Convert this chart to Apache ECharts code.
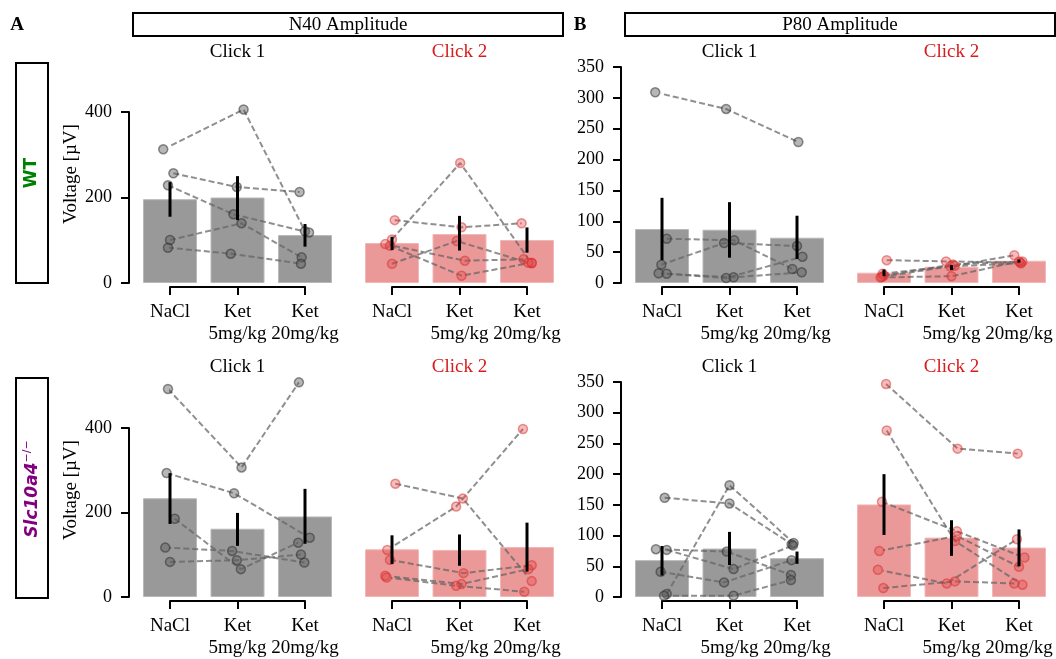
<!DOCTYPE html>
<html>
<head>
<meta charset="utf-8">
<script src="https://cdn.jsdelivr.net/npm/echarts@6/dist/echarts.min.js"></script>
<style>
  html, body { margin: 0; padding: 0; background: #fff; }
  #chart { width: 1056px; height: 659px; }
</style>
</head>
<body>
<div id="chart"></div>
<script>
// categories on every x axis
const cats = ['NaCl', 'Ket\n5mg/kg', 'Ket\n20mg/kg']

// one row per animal: [NaCl, Ket 5, Ket 20]; jitter = horizontal strip offset of each dot
// N40 amplitude, WT
const n40WtC1 = [[312.7, 406, 121], [256.6, 224.6, 212.9], [228.5, 160.7, 118], [100.6, 139.6, 60], [82.6, 68.6, 45.2]]
const n40WtC1Jit = [[-0.10, 0.09, 0.00], [0.05, -0.01, -0.08], [-0.03, -0.06, 0.06], [0.00, 0.06, -0.05], [-0.03, -0.10, -0.06]]
const n40WtC1Bar = [196, 200, 112]
const n40WtC1Err = [[155, 236], [147, 250], [85, 138]]

const n40WtC2 = [[102, 280.7, 46], [147, 130.3, 139.6], [91, 52.2, 55.4], [87, 17.1, 47.5], [45, 98.2, 47.5]]
const n40WtC2Jit = [[0.00, 0.01, 0.07], [0.04, 0.03, -0.08], [-0.10, 0.08, -0.05], [-0.03, 0.03, 0.07], [0.00, -0.04, 0.02]]
const n40WtC2Bar = [93.6, 114.6, 100.6]
const n40WtC2Err = [[77, 108], [76, 157], [71, 130]]

// P80 amplitude, WT
const p80WtC1 = [[309, 282, 228.5], [71.8, 69.1, 22.7], [29.7, 64.8, 60], [15.7, 8.1, 42.6], [15.1, 9.2, 17.3]]
const p80WtC1Jit = [[-0.10, -0.05, 0.02], [0.07, 0.07, -0.07], [-0.01, -0.08, 0.00], [-0.05, -0.05, 0.08], [0.07, 0.06, 0.07]]
const p80WtC1Bar = [87.5, 86.4, 73.4]
const p80WtC1Err = [[37, 138], [41, 131], [39, 109]]

const p80WtC2 = [[37, 35, 33], [15, 28, 45], [12, 30, 35], [10, 27, 32], [9, 11, 35]]
const p80WtC2Jit = [[0.04, -0.08, 0.02], [-0.02, 0.05, -0.07], [0.00, 0.02, 0.05], [-0.03, -0.02, 0.03], [-0.05, 0.00, 0.00]]
const p80WtC2Bar = [16.7, 26.4, 36.1]
const p80WtC2Err = [[11, 22], [21, 29], [33, 38]]

// N40 amplitude, Slc10a4-/-
const n40KoC1 = [[492.5, 306.7, 508], [293.4, 245.5, 140.4], [185.2, 65.9, 128.6], [116.9, 109, 81.5], [83.1, 87, 100.4]]
const n40KoC1Jit = [[-0.03, 0.06, -0.09], [-0.05, -0.05, 0.07], [0.07, 0.05, -0.10], [-0.07, -0.08, -0.01], [0.00, -0.01, -0.06]]
const n40KoC1Bar = [233.7, 161.6, 190.6]
const n40KoC1Err = [[173, 293], [121, 199], [126, 256]]

const n40KoC2 = [[268.2, 233, 37.6], [111.4, 214, 397.6], [87.8, 56.5, 75.3], [50.2, 30.6, 65.9], [46.3, 26.6, 12.5]]
const n40KoC2Jit = [[0.05, 0.05, 0.07], [-0.07, -0.05, -0.06], [-0.03, 0.06, 0.07], [-0.10, 0.03, 0.02], [-0.08, -0.05, -0.04]]
const n40KoC2Bar = [112.9, 111.4, 118.4]
const n40KoC2Err = [[78, 146], [74, 148], [60, 176]]

// P80 amplitude, Slc10a4-/-
const p80KoC1 = [[161.5, 152.3, 86], [4.9, 182, 88], [77.8, 74, 36], [76.7, 45.4, 84], [41, 23.8, 60], [2, 2.2, 27.5]]
const p80KoC1Jit = [[0.04, 0.00, -0.08], [0.07, 0.00, -0.05], [-0.09, -0.04, -0.09], [0.07, 0.06, -0.06], [-0.02, -0.08, -0.08], [0.03, 0.06, -0.09]]
const p80KoC1Bar = [60, 78.9, 63.2]
const p80KoC1Err = [[35, 83], [52, 106], [54, 74]]

const p80KoC2 = [[346.8, 241.5, 233.4], [271.2, 91.3, 20], [155, 107, 64.2], [75, 99.4, 49.2], [44.3, 22.1, 94], [14.6, 25.4, 22.1]]
const p80KoC2Jit = [[0.03, 0.09, -0.02], [0.04, 0.05, 0.05], [-0.03, 0.08, 0.08], [-0.07, 0.08, 0.00], [-0.09, -0.07, -0.03], [-0.01, 0.05, -0.07]]
const p80KoC2Bar = [150.7, 96.7, 80.5]
const p80KoC2Err = [[101, 200], [67, 125], [50, 110]]

const panels = [
  { vals: n40WtC1, jit: n40WtC1Jit, bar: n40WtC1Bar, err: n40WtC1Err, row: 0, col: 0 },
  { vals: n40WtC2, jit: n40WtC2Jit, bar: n40WtC2Bar, err: n40WtC2Err, row: 0, col: 1 },
  { vals: p80WtC1, jit: p80WtC1Jit, bar: p80WtC1Bar, err: p80WtC1Err, row: 0, col: 2 },
  { vals: p80WtC2, jit: p80WtC2Jit, bar: p80WtC2Bar, err: p80WtC2Err, row: 0, col: 3 },
  { vals: n40KoC1, jit: n40KoC1Jit, bar: n40KoC1Bar, err: n40KoC1Err, row: 1, col: 0 },
  { vals: n40KoC2, jit: n40KoC2Jit, bar: n40KoC2Bar, err: n40KoC2Err, row: 1, col: 1 },
  { vals: p80KoC1, jit: p80KoC1Jit, bar: p80KoC1Bar, err: p80KoC1Err, row: 1, col: 2 },
  { vals: p80KoC2, jit: p80KoC2Jit, bar: p80KoC2Bar, err: p80KoC2Err, row: 1, col: 3 }
]

// layout (pixels)
const colLeft = [170, 392, 662, 884]
const plotW = 135
const rowBottom = [283, 598]
const topTickN40 = [112, 428]
const topTickP80 = [67, 382]
const serif = '"Liberation Serif", "DejaVu Serif", serif'
const red = '#d81b1b'

let grid = []
let xAxis = []
let yAxis = []
let series = []

panels.forEach((p, i) => {
  const isN40 = p.col < 2
  const isClick2 = p.col % 2 === 1
  const top = (isN40 ? topTickN40 : topTickP80)[p.row]
  grid.push({ left: colLeft[p.col], top: top, width: plotW, height: rowBottom[p.row] - top })
  xAxis.push({
    gridIndex: i,
    type: 'value',
    min: 0,
    max: 2,
    interval: 1,
    offset: 4,
    splitLine: { show: false },
    axisLine: { show: true, onZero: false, lineStyle: { color: '#000', width: 2 } },
    axisTick: { show: true, length: 8, lineStyle: { color: '#000', width: 2 } },
    axisLabel: {
      showMinLabel: true,
      showMaxLabel: true,
      margin: 14,
      color: '#000',
      fontFamily: serif,
      fontSize: 19,
      lineHeight: 22,
      formatter: v => cats[v]
    }
  })
  yAxis.push({
    gridIndex: i,
    type: 'value',
    show: !isClick2,
    min: 0,
    max: isN40 ? 400 : 350,
    interval: isN40 ? 200 : 50,
    offset: 41,
    splitLine: { show: false },
    axisLine: { show: true, onZero: false, lineStyle: { color: '#000', width: 2 } },
    axisTick: { show: true, length: 8, lineStyle: { color: '#000', width: 2 } },
    axisLabel: { margin: 17, color: '#000', fontFamily: serif, fontSize: 18 }
  })

  series.push({
    type: 'bar',
    xAxisIndex: i,
    yAxisIndex: i,
    barWidth: 54,
    clip: false,
    z: 1,
    itemStyle: isClick2
      ? { color: '#ea9898', borderColor: '#f2b8b8', borderWidth: 1 }
      : { color: '#999999', borderColor: '#b8b8b8', borderWidth: 1 },
    data: p.bar.map((v, k) => [k, v])
  })

  p.vals.forEach((row, s) => {
    series.push({
      type: 'line',
      xAxisIndex: i,
      yAxisIndex: i,
      symbol: 'none',
      clip: false,
      z: 3,
      lineStyle: { color: 'rgba(100,100,100,0.72)', width: 2, type: [6, 3] },
      data: row.map((v, k) => [k + p.jit[s][k], v])
    })
  })

  let pts = []
  p.vals.forEach((row, s) => {
    row.forEach((v, k) => pts.push([k + p.jit[s][k], v]))
  })
  series.push({
    type: 'scatter',
    xAxisIndex: i,
    yAxisIndex: i,
    clip: false,
    z: 4,
    symbolSize: 9,
    itemStyle: isClick2
      ? { color: 'rgba(226,70,70,0.45)', borderColor: 'rgba(215,40,40,0.6)', borderWidth: 1.5 }
      : { color: 'rgba(90,90,90,0.55)', borderColor: 'rgba(45,45,45,0.65)', borderWidth: 1.5 },
    data: pts
  })

  series.push({
    type: 'custom',
    xAxisIndex: i,
    yAxisIndex: i,
    z: 5,
    renderItem: (params, api) => {
      const a = api.coord([api.value(0), api.value(1)])
      const b = api.coord([api.value(0), api.value(2)])
      return {
        type: 'line',
        shape: { x1: a[0], y1: a[1], x2: b[0], y2: b[1] },
        style: { stroke: '#000', lineWidth: 3 }
      }
    },
    data: p.err.map((e, k) => [k, e[0], e[1]])
  })
})

// titles, boxes and labels
let graphic = []
const titleY = [52, 367]
for (let r = 0; r < 2; r++) {
  for (let c = 0; c < 4; c++) {
    graphic.push({
      type: 'text',
      x: colLeft[c] + plotW / 2,
      y: titleY[r],
      style: {
        text: c % 2 === 0 ? 'Click 1' : 'Click 2',
        font: '19px ' + serif,
        fill: c % 2 === 0 ? '#000' : red,
        align: 'center',
        verticalAlign: 'middle'
      }
    })
  }
  graphic.push({
    type: 'text',
    x: 71,
    y: r === 0 ? 174 : 490,
    rotation: Math.PI / 2,
    style: { text: 'Voltage [µV]', font: '19px ' + serif, fill: '#000', align: 'center', verticalAlign: 'middle' }
  })
}
graphic.push(
  { type: 'rect', shape: { x: 133, y: 13, width: 430, height: 23 }, style: { fill: 'none', stroke: '#000', lineWidth: 2 } },
  { type: 'text', x: 348, y: 25, style: { text: 'N40 Amplitude', font: '19px ' + serif, fill: '#000', align: 'center', verticalAlign: 'middle' } },
  { type: 'rect', shape: { x: 625, y: 13, width: 430, height: 23 }, style: { fill: 'none', stroke: '#000', lineWidth: 2 } },
  { type: 'text', x: 840, y: 25, style: { text: 'P80 Amplitude', font: '19px ' + serif, fill: '#000', align: 'center', verticalAlign: 'middle' } },
  { type: 'text', x: 17, y: 25, style: { text: 'A', font: 'bold 19px ' + serif, fill: '#000', align: 'center', verticalAlign: 'middle' } },
  { type: 'text', x: 580, y: 25, style: { text: 'B', font: 'bold 19px ' + serif, fill: '#000', align: 'center', verticalAlign: 'middle' } },
  { type: 'rect', shape: { x: 16, y: 63, width: 32, height: 220 }, style: { fill: 'none', stroke: '#000', lineWidth: 2 } },
  { type: 'rect', shape: { x: 16, y: 378, width: 32, height: 220 }, style: { fill: 'none', stroke: '#000', lineWidth: 2 } },
  {
    type: 'text', x: 32, y: 173, rotation: Math.PI / 2,
    style: { text: 'WT', font: 'bold 17px "DejaVu Sans", sans-serif', fill: '#008000', align: 'center', verticalAlign: 'middle' }
  },
  {
    type: 'text', x: 33, y: 489, rotation: Math.PI / 2,
    style: {
      text: '{a|Slc10a4}{b|−/−}',
      align: 'center',
      verticalAlign: 'middle',
      rich: {
        a: { fontFamily: '"DejaVu Sans", sans-serif', fontWeight: 'bold', fontStyle: 'italic', fontSize: 17, fill: '#800080', lineHeight: 22 },
        b: { fontFamily: '"DejaVu Sans", sans-serif', fontSize: 11, fill: '#800080', lineHeight: 14, verticalAlign: 'top' }
      }
    }
  }
)

let chart = echarts.init(document.getElementById('chart'))
chart.setOption({
  animation: false,
  grid: grid,
  xAxis: xAxis,
  yAxis: yAxis,
  series: series,
  graphic: graphic
})
</script>
</body>
</html>
